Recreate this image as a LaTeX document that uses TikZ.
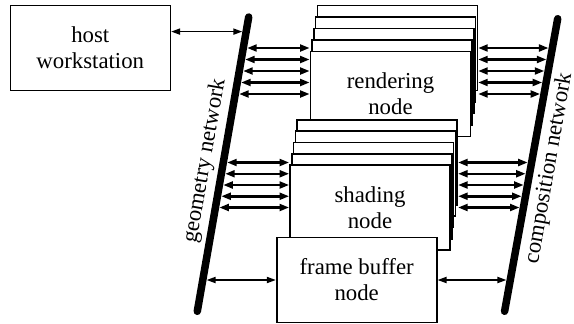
\documentclass[tikz,border=0pt]{standalone}
\usepackage{fontspec}
\setmainfont{Liberation Serif}
\usetikzlibrary{arrows.meta,calc,intersections}
\tikzset{
	nbox/.style={draw=black, line width=0.8pt, fill=white, minimum width=80pt,
		minimum height=42.5pt, inner sep=2pt, align=center,
		font=\fontsize{11.4pt}{13pt}\selectfont},
	netbar/.style={line width=3.75pt, line cap=round},
	netlab/.style={rotate=80, anchor=base, inner sep=0pt,
		font=\fontsize{11.4pt}{13pt}\selectfont},
	busarr/.style={{Triangle[length=4.8pt,width=3.4pt]}-{Triangle[length=4.8pt,width=3.4pt]},
		line width=1.25pt, shorten <=1.9pt},
	linkarr/.style={{Triangle[length=4.5pt,width=3pt]}-{Triangle[length=4.5pt,width=3pt]},
		line width=0.85pt, shorten <=1.9pt},
}
\begin{document}
\begin{tikzpicture}[x=0.5pt,y=-0.5pt]
	\useasboundingbox (0,0) rectangle (574,323);
	\foreach \k in {0,...,3}
		\node[nbox] (rend\k) at ({390.5+(4-\k)*1.7},{94-(4-\k)*11.5}) {};
	\node[nbox] (rend4) at (390.5,94) {rendering\\node};
	\foreach \k in {0,...,3}
		\node[nbox] (shade\k) at ({370+(4-\k)*1.8},{207.5-(4-\k)*11.25}) {};
	\node[nbox] (shade4) at (370,207.5) {shading\\node};
	\node[nbox] (fbuf) at (356.7,280) {frame buffer\\node};
	\node[nbox] (host) at (90.3,48) {host\\workstation};
	\coordinate (gtop) at (248.7,17);
	\coordinate (gbot) at (197.3,311.3);
	\coordinate (ctop) at (557.7,18.7);
	\coordinate (cbot) at (504.6,311.3);
	\draw[netbar, name path=geonet] (gtop) -- (gbot);
	\draw[netbar, name path=compnet] (ctop) -- (cbot);
	\node[netlab] (geolab) at ($(gtop)!0.5!(gbot)+(-12.5,-2.2)$) {geometry network};
	\node[netlab] (complab) at ($(ctop)!0.5!(cbot)+(23.5,4.1)$) {composition network};
	\foreach \k in {0,...,4}{
		\path[name path=probe] (rend4.west |- rend\k.west) -- ++(-150,0);
		\draw[busarr, name intersections={of=probe and geonet, by=g}]
			(g) -- (rend4.west |- rend\k.west);
		\path[name path=probe] (rend0.east |- rend\k.east) -- ++(150,0);
		\draw[busarr, name intersections={of=probe and compnet, by=c}]
			(c) -- (rend0.east |- rend\k.east);
		\path[name path=probe] (shade4.west |- shade\k.west) -- ++(-150,0);
		\draw[busarr, name intersections={of=probe and geonet, by=g}]
			(g) -- (shade4.west |- shade\k.west);
		\path[name path=probe] (shade0.east |- shade\k.east) -- ++(150,0);
		\draw[busarr, name intersections={of=probe and compnet, by=c}]
			(c) -- (shade0.east |- shade\k.east);
	}
	\path[name path=probe] ([yshift=8.2pt]host.east) -- ++(150,0);
	\draw[linkarr, name intersections={of=probe and geonet, by=gh}]
		(gh) -- ([yshift=8.2pt]host.east);
	\path[name path=probe] (fbuf.west) -- ++(-150,0);
	\draw[linkarr, name intersections={of=probe and geonet, by=gf}] (gf) -- (fbuf.west);
	\path[name path=probe] (fbuf.east) -- ++(150,0);
	\draw[linkarr, name intersections={of=probe and compnet, by=cf}] (cf) -- (fbuf.east);
\end{tikzpicture}
\end{document}
